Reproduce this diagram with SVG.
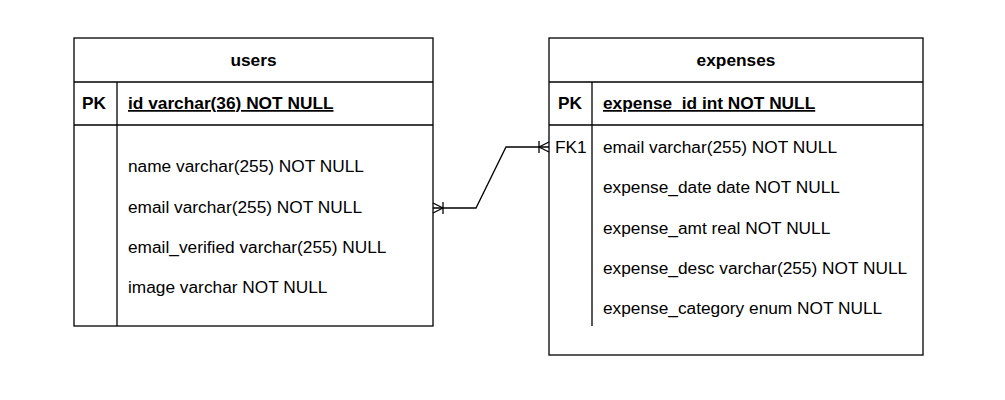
<svg xmlns="http://www.w3.org/2000/svg" width="1005" height="400" viewBox="0 0 1005 400">
<style>
.box{fill:#fff;stroke:#000;stroke-width:1.3}
.ln{fill:none;stroke:#000;stroke-width:1.3}
text{font-family:"Liberation Sans",Arial,sans-serif;font-size:17.3px;fill:#000}
.b{font-weight:bold}
.t{font-weight:bold;text-anchor:middle}
.u{text-decoration:underline}
</style>
<rect width="1005" height="400" fill="#fff"/>
<g id="users">
<rect class="box" x="74" y="38" width="359" height="288"/>
<line class="ln" x1="74" y1="82" x2="433" y2="82"/>
<line class="ln" x1="74" y1="125" x2="433" y2="125"/>
<line class="ln" x1="117" y1="82" x2="117" y2="326"/>
<text class="t" x="253.5" y="66">users</text>
<text class="b" x="82" y="109">PK</text>
<text class="b u" x="128" y="109">id varchar(36) NOT NULL</text>
<text x="128" y="172">name varchar(255) NOT NULL</text>
<text x="128" y="213">email varchar(255) NOT NULL</text>
<text x="128" y="253">email_verified varchar(255) NULL</text>
<text x="128" y="293">image varchar NOT NULL</text>
</g>
<g id="expenses">
<rect class="box" x="549" y="38" width="374" height="317"/>
<line class="ln" x1="549" y1="82" x2="923" y2="82"/>
<line class="ln" x1="549" y1="125" x2="923" y2="125"/>
<line class="ln" x1="592" y1="82" x2="592" y2="326"/>
<text class="t" x="736" y="66">expenses</text>
<text class="b" x="558" y="109">PK</text>
<text class="b u" x="603" y="109">expense_id int NOT NULL</text>
<text x="555" y="153">FK1</text>
<text x="603" y="153">email varchar(255) NOT NULL</text>
<text x="603" y="193">expense_date date NOT NULL</text>
<text x="603" y="234">expense_amt real NOT NULL</text>
<text x="603" y="274">expense_desc varchar(255) NOT NULL</text>
<text x="603" y="314">expense_category enum NOT NULL</text>
</g>
<g id="connectors">
<polyline class="ln" points="433,208 476,208 506,147 549,147"/>
<path class="ln" d="M443,208 L433,203 M443,208 L433,213 M443,202 L443,214"/>
<path class="ln" d="M539,147 L549,142 M539,147 L549,152 M539,141 L539,153"/>
</g>
</svg>
